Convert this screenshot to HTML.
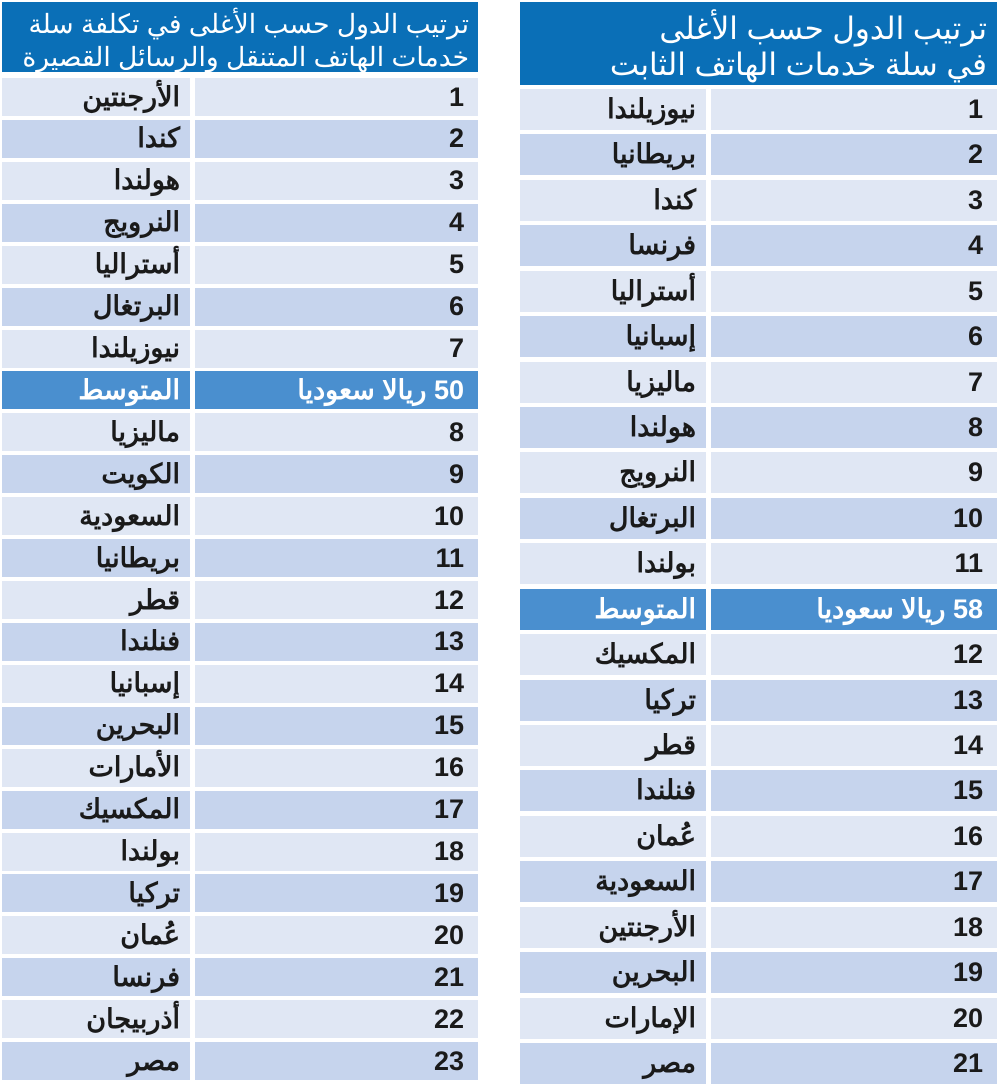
<!DOCTYPE html>
<html><head><meta charset="utf-8"><style>
body{margin:0;width:1000px;height:1079px;background:#fff;position:relative;overflow:hidden;font-family:"Liberation Sans","Noto Sans CJK SC",sans-serif}
.t{position:absolute;top:0}
.h{position:absolute;background:#0a6fb7;color:#fff;direction:rtl;text-align:right;font-size:28px;line-height:33px;box-sizing:border-box;padding:5px 10px 0 0;white-space:nowrap;overflow:hidden}
.r{position:absolute;left:0;right:0}
.c{position:absolute;top:0;bottom:0;display:flex;align-items:center;font-weight:bold;color:#1a1a1a}
.n{justify-content:flex-end;padding-right:14px;box-sizing:border-box;font-size:27px}
.a{justify-content:flex-start;padding-right:10px;box-sizing:border-box;direction:rtl;font-size:27px}
.l .c{background:#e0e7f4}.d .c{background:#c6d4ed}.m .c{background:#4a8fcf;color:#fff}
</style></head><body>
<div class="t" style="left:2px;width:476px;height:1079px" id="L">
<div class="h" style="left:0;top:2px;width:476px;height:70px;font-size:26.5px;padding-right:9px;padding-top:6px">ترتيب الدول حسب الأغلى في تكلفة سلة<br>خدمات الهاتف المتنقل والرسائل القصيرة</div>
</div>
<div class="t" style="left:520px;width:477px;height:1079px" id="R">
<div class="h" style="left:0;top:2px;width:477px;height:83px;padding-top:9px;font-size:31px;line-height:36px">ترتيب الدول حسب الأغلى<br>في سلة خدمات الهاتف الثابت</div>
</div>
<script>
function build(id,rows,top,step,h,split,w){
 var el=document.getElementById(id),s='';
 rows.forEach(function(r,i){
  var cls=r[2]?'m':(r[3]?'d':'l');
  s+='<div class="r '+cls+'" style="top:'+(top+i*step)+'px;height:'+h+'px">'+
  '<div class="c a" style="left:0;width:'+split+'px">'+r[1]+'</div>'+
  '<div class="c n" style="left:'+(split+5)+'px;width:'+(w-split-5)+'px">'+r[0]+'</div></div>';
 });
 el.insertAdjacentHTML('beforeend',s);
}
var L=[["1","الأرجنتين"],["2","كندا"],["3","هولندا"],["4","النرويج"],["5","أستراليا"],["6","البرتغال"],["7","نيوزيلندا"],["<span dir='rtl'>50 ريالا سعوديا</span>","المتوسط",1],["8","ماليزيا"],["9","الكويت"],["10","السعودية"],["11","بريطانيا"],["12","قطر"],["13","فنلندا"],["14","إسبانيا"],["15","البحرين"],["16","الأمارات"],["17","المكسيك"],["18","بولندا"],["19","تركيا"],["20","عُمان"],["21","فرنسا"],["22","أذربيجان"],["23","مصر"]];
var R=[["1","نيوزيلندا"],["2","بريطانيا"],["3","كندا"],["4","فرنسا"],["5","أستراليا"],["6","إسبانيا"],["7","ماليزيا"],["8","هولندا"],["9","النرويج"],["10","البرتغال"],["11","بولندا"],["<span dir='rtl'>58 ريالا سعوديا</span>","المتوسط",1],["12","المكسيك"],["13","تركيا"],["14","قطر"],["15","فنلندا"],["16","عُمان"],["17","السعودية"],["18","الأرجنتين"],["19","البحرين"],["20","الإمارات"],["21","مصر"]];
function alt(a){var k=0;a.forEach(function(r){if(!r[2]){r[3]=(k%2==1);k++;}else{k=0;}});}
alt(L);alt(R);
build('L',L,78,41.92,38,188,476);
build('R',R,89,45.43,41,186,477);
</script>
</body></html>
